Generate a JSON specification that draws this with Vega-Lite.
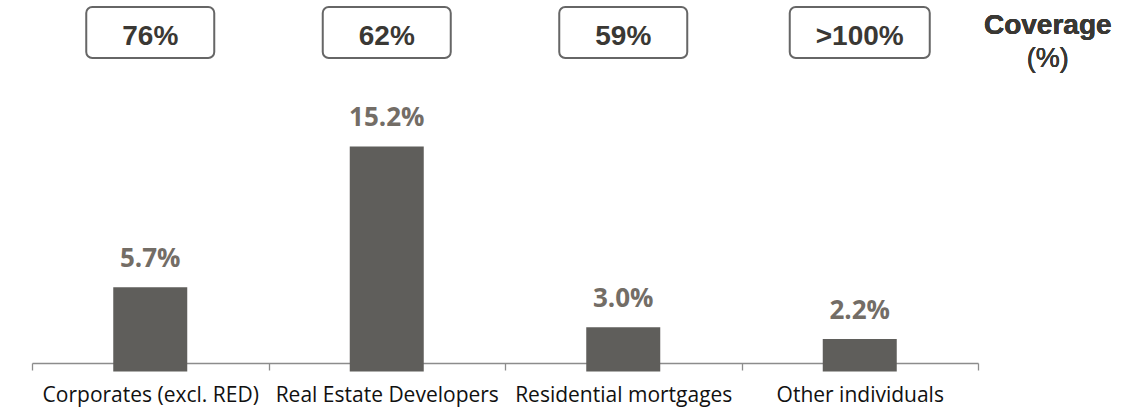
{
  "$schema": "https://vega.github.io/schema/vega-lite/v6.json",
  "padding": {"left": 31, "top": 6, "right": 0, "bottom": 45},
  "autosize": {"type": "pad"},
  "background": "white",
  "config": {"view": {"stroke": null}},
  "spacing": 22,
  "bounds": "flush",
  "data": {
    "values": [
      {"segment": "Corporates (excl. RED)", "npl": 0.057, "coverage": "76%"},
      {"segment": "Real Estate Developers", "npl": 0.152, "coverage": "62%"},
      {"segment": "Residential mortgages", "npl": 0.030, "coverage": "59%"},
      {"segment": "Other individuals", "npl": 0.022, "coverage": ">100%"}
    ]
  },
  "vconcat": [
    {
      "width": 946,
      "height": 51,
      "encoding": {
        "x": {
          "field": "segment",
          "type": "nominal",
          "sort": null,
          "scale": {"paddingInner": 0, "paddingOuter": 0},
          "axis": null
        }
      },
      "layer": [
        {
          "mark": {"type": "bar", "fill": "white", "stroke": "#666666", "strokeWidth": 2, "cornerRadius": 6},
          "encoding": {
            "y": {"datum": 1, "type": "quantitative", "scale": {"domain": [0, 1], "nice": false}, "axis": null},
            "y2": {"datum": 0},
            "size": {"condition": {"test": "datum.coverage === '>100%'", "value": 140}, "value": 128}
          }
        },
        {
          "mark": {"type": "text", "font": "Liberation Sans", "fontWeight": "bold", "fontSize": 28, "fill": "#3a3834", "baseline": "alphabetic", "dy": 12},
          "encoding": {"text": {"field": "coverage", "type": "nominal"}}
        },
        {
          "mark": {"type": "text", "text": "Coverage", "font": "Liberation Sans", "fontWeight": "bold", "fontSize": 28, "fill": "#3a3834", "baseline": "alphabetic", "dx": 188, "dy": 1},
          "encoding": {"x": {"datum": "Other individuals", "type": "nominal"}}
        },
        {
          "mark": {"type": "text", "text": "(%)", "font": "Liberation Sans", "fontWeight": "normal", "fontSize": 27, "fill": "#3a3834", "baseline": "alphabetic", "dx": 188, "dy": 34},
          "encoding": {"x": {"datum": "Other individuals", "type": "nominal"}}
        }
      ]
    },
    {
      "width": 946,
      "height": 283,
      "encoding": {
        "x": {
          "field": "segment",
          "type": "nominal",
          "sort": null,
          "scale": {"paddingInner": 0, "paddingOuter": 0},
          "axis": {
            "title": null,
            "labelAngle": 0,
            "tickBand": "extent",
            "domainColor": "#8c8c8c",
            "domainWidth": 1.3,
            "tickColor": "#8c8c8c",
            "tickWidth": 1.3,
            "tickSize": 7,
            "labelFont": "Open Sans",
            "labelFontSize": 21,
            "labelColor": "#111111",
            "labelPadding": 14,
            "labelLimit": 0,
            "labelOverlap": false,
            "grid": false
          }
        },
        "y": {
          "field": "npl",
          "type": "quantitative",
          "scale": {"domain": [0.0058, 0.1968], "zero": false, "nice": false},
          "axis": null
        }
      },
      "layer": [
        {
          "mark": {"type": "bar", "fill": "#5f5e5b", "width": 74}
        },
        {
          "mark": {"type": "text", "font": "Open Sans", "fontWeight": "bold", "fontSize": 26, "fill": "#736d66", "baseline": "alphabetic", "dy": -20},
          "encoding": {"text": {"field": "npl", "type": "quantitative", "format": ".1%"}}
        }
      ]
    }
  ]
}
